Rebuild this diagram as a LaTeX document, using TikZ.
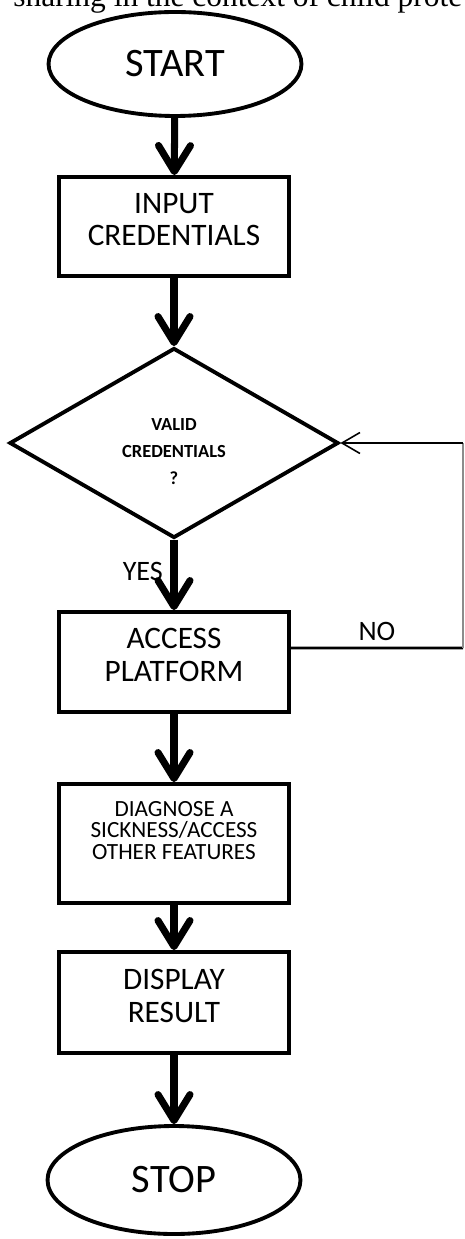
\documentclass[tikz,border=0pt]{standalone}
\usepackage{fontspec}
\setmainfont{Carlito}
\newfontfamily\serifpara{Liberation Serif}
\usetikzlibrary{arrows.meta,shapes.geometric}
\newcommand{\padbelow}[1]{\rule[-#1]{0pt}{0pt}}
\newcommand{\padabove}[1]{\rule{0pt}{#1}}

\begin{document}
\begin{tikzpicture}[x=0.02cm, y=-0.02cm,
    >={Straight Barb[length=0.52cm,width=0.64cm,round]},
    terminal/.style={ellipse, draw, line width=2.2pt, minimum width=5.06cm, inner sep=0pt, font=\fontsize{23}{24}\selectfont},
    process/.style={rectangle, draw, line width=2.2pt, minimum width=4.6cm, align=center, font=\fontsize{17.8}{18.7}\selectfont},
    decision/.style={diamond, draw, line width=2.2pt, minimum width=6.58cm, minimum height=3.8cm, inner sep=0pt, align=center, font=\bfseries\fontsize{10.5}{15.3}\selectfont},
    flow/.style={->, line width=4pt},
    answer/.style={font=\fontsize{16}{17}\selectfont}]
    \useasboundingbox (0,0) rectangle (464,1239);

    % Nodes {start, input, valid, access, diagnose, display, stop}
    \node [anchor=base west, inner sep=0pt, font=\serifpara\fontsize{17.9}{20}\selectfont]
                                            (heading)  at (13,7)      {sharing in the context of child prote};
    \node [terminal, minimum height=2.08cm] (start)    at (175,64)    {START};
    \node [process, minimum height=1.98cm]  (input)    at (174,226.5) {INPUT\\CREDENTIALS\padbelow{8pt}};
    \node [decision]                        (valid)    at (174,443)   {\padabove{17pt}VALID\\CREDENTIALS\\?};
    \node [process, minimum height=2cm]     (access)   at (174,662)   {ACCESS\\PLATFORM\padbelow{8pt}};
    \node [process, minimum height=2.38cm, font=\fontsize{13.2}{12.3}\selectfont]
                                            (diagnose) at (174,843.5) {DIAGNOSE A\\SICKNESS/ACCESS\\OTHER FEATURES\padbelow{15pt}};
    \node [process, minimum height=2.02cm]  (display)  at (174,1002.5) {DISPLAY\\RESULT\padbelow{8pt}};
    \node [terminal, minimum height=2.16cm] (stop)     at (174,1180)  {STOP};

    \coordinate (nodown) at (463,648);
    \coordinate (noup)   at (463,443);

    % Paths
    \path [flow] (start)    edge                                      (input);
    \path [flow] (input)    edge                                      (valid);
    \path [flow] (valid)    edge node [answer, left=1pt, pos=.45] (yes) {YES} (access);
    \path [flow] (access)   edge                                      (diagnose);
    \path [flow] (diagnose) edge                                      (display);
    \path [flow] (display)  edge                                      (stop);

    % back to the check
    \draw [line width=1.6pt] ([yshift=0.28cm]access.east) -- node [answer, above] (no) {NO} (nodown);
    \draw [line width=0.6pt, black!45] (nodown) -- (noup);
    \draw [-{Straight Barb[length=0.36cm,width=0.42cm]}, line width=0.9pt] (noup) -- (valid.east);

\end{tikzpicture}
\end{document}
